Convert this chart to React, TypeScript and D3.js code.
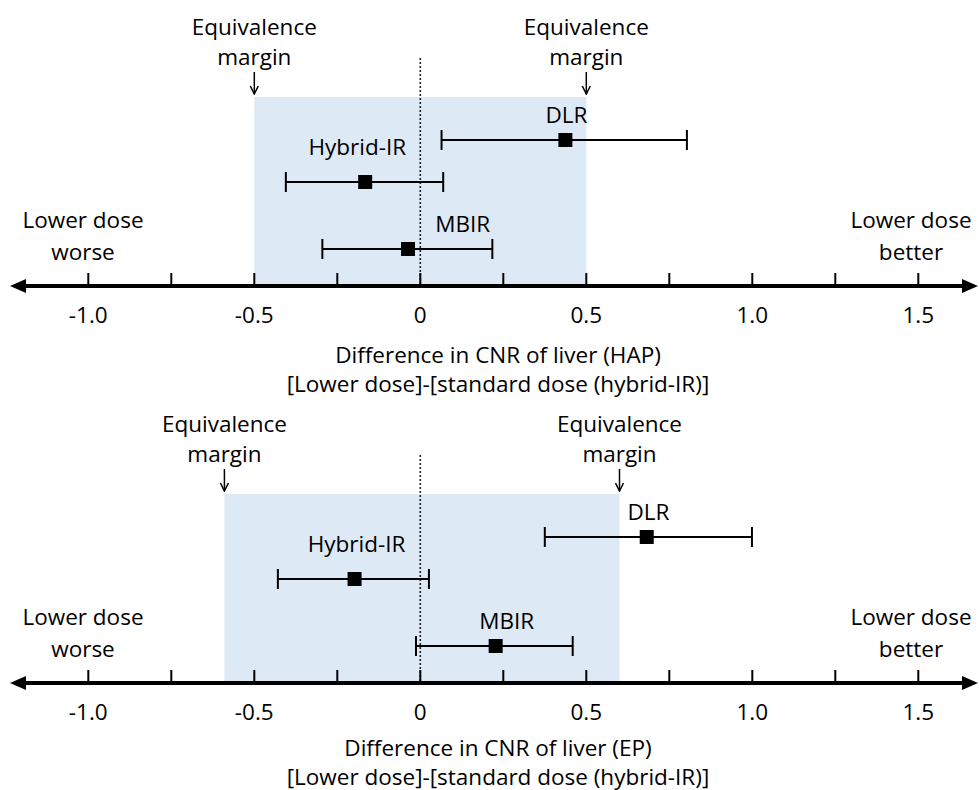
import React, { useEffect, useRef } from 'react';
import * as d3 from 'd3';

// values
const methods = ['DLR', 'Hybrid-IR', 'MBIR'];

const hapEstimate = [0.437, -0.166, -0.037];
const hapLower = [0.064, -0.405, -0.295];
const hapUpper = [0.803, 0.069, 0.217];
const hapMargin = [-0.5, 0.5];
const hapLabelAt = [0.44, -0.19, 0.128];

const epEstimate = [0.682, -0.198, 0.227];
const epLower = [0.375, -0.429, -0.013];
const epUpper = [0.999, 0.026, 0.459];
const epMargin = [-0.59, 0.6];
const epLabelAt = [0.687, -0.192, 0.26];

const tickValues = [-1, -0.75, -0.5, -0.25, 0, 0.25, 0.5, 0.75, 1, 1.25, 1.5];
const labeledTicks = [-1, -0.5, 0, 0.5, 1, 1.5];

const titles = [
  ['Difference in CNR of liver (HAP)', '[Lower dose]-[standard dose (hybrid-IR)]'],
  ['Difference in CNR of liver (EP)', '[Lower dose]-[standard dose (hybrid-IR)]'],
];

const W = 979, H = 790;
const FONT = '"Open Sans", "Noto Sans", sans-serif';
const FS = '22.5px';
const rowOffset = [-146, -104, -37];
const labelOffset = [-172, -140, -63];

function App() {
  const ref = useRef<SVGSVGElement>(null);

  useEffect(() => {
    const svg = d3.select(ref.current);
    svg.selectAll('*').remove();

    const x = d3.scaleLinear().domain([-1, 1.5]).range([88.3, 918.3]);

    const defs = svg.append('defs');
    defs.append('marker')
      .attr('id', 'arr')
      .attr('viewBox', '0 0 10 10')
      .attr('refX', 9).attr('refY', 5)
      .attr('markerWidth', 10).attr('markerHeight', 10)
      .attr('markerUnits', 'userSpaceOnUse')
      .attr('orient', 'auto')
      .append('path')
      .attr('d', 'M1,1 L9,5 L1,9')
      .attr('fill', 'none')
      .attr('stroke', '#000')
      .attr('stroke-width', 1.5);

    const label = (g: any, tx: number, ty: number, s: string) =>
      g.append('text')
        .attr('x', tx).attr('y', ty)
        .attr('text-anchor', 'middle').attr('dominant-baseline', 'central')
        .style('font-family', FONT).style('font-size', FS)
        .text(s);

    const panels = [
      { axisY: 286, titleY: 68, est: hapEstimate, lo: hapLower, hi: hapUpper, margin: hapMargin, labelAt: hapLabelAt, title: titles[0] },
      { axisY: 683, titleY: 64, est: epEstimate, lo: epLower, hi: epUpper, margin: epMargin, labelAt: epLabelAt, title: titles[1] },
    ];

    panels.forEach(p => {
      const g = svg.append('g').attr('transform', `translate(0,${p.axisY})`);

      // equivalence region
      g.append('rect')
        .attr('x', x(p.margin[0]))
        .attr('y', -189)
        .attr('width', x(p.margin[1]) - x(p.margin[0]))
        .attr('height', 189)
        .attr('fill', '#dee9f6');

      // zero line
      g.append('line')
        .attr('x1', x(0)).attr('x2', x(0))
        .attr('y1', -228).attr('y2', 0)
        .attr('stroke', '#222')
        .attr('stroke-width', 1.6)
        .attr('stroke-dasharray', '2,2');

      // margin labels + arrows
      p.margin.forEach(m => {
        label(g, x(m), -260, 'Equivalence');
        label(g, x(m), -230, 'margin');
        g.append('line')
          .attr('x1', x(m)).attr('x2', x(m))
          .attr('y1', -214).attr('y2', -192)
          .attr('stroke', '#000').attr('stroke-width', 1.5)
          .attr('marker-end', 'url(#arr)');
      });

      // side notes
      label(g, 83, -67, 'Lower dose');
      label(g, 83, -35, 'worse');
      label(g, 911, -67, 'Lower dose');
      label(g, 911, -35, 'better');

      // error bars
      methods.forEach((name, i) => {
        const y = rowOffset[i];
        g.append('line')
          .attr('x1', x(p.lo[i])).attr('x2', x(p.hi[i]))
          .attr('y1', y).attr('y2', y)
          .attr('stroke', '#000').attr('stroke-width', 2);
        [p.lo[i], p.hi[i]].forEach(v => {
          g.append('line')
            .attr('x1', x(v)).attr('x2', x(v))
            .attr('y1', y - 10).attr('y2', y + 10)
            .attr('stroke', '#000').attr('stroke-width', 2);
        });
        g.append('rect')
          .attr('x', x(p.est[i]) - 7).attr('y', y - 7)
          .attr('width', 14).attr('height', 14)
          .attr('fill', '#000');
        label(g, x(p.labelAt[i]), labelOffset[i], name);
      });

      // axis
      g.append('line')
        .attr('x1', 22).attr('x2', W - 14)
        .attr('y1', 0).attr('y2', 0)
        .attr('stroke', '#000').attr('stroke-width', 4);
      g.append('path')
        .attr('d', `M10,0 L26,-7 L26,7 Z`)
        .attr('fill', '#000');
      g.append('path')
        .attr('d', `M${W - 1},0 L${W - 17},-7 L${W - 17},7 Z`)
        .attr('fill', '#000');

      g.selectAll('.tick')
        .data(tickValues)
        .join('line')
        .attr('x1', d => x(d)).attr('x2', d => x(d))
        .attr('y1', -13).attr('y2', 0)
        .attr('stroke', '#000').attr('stroke-width', 2);

      g.selectAll('.tl')
        .data(labeledTicks)
        .join('text')
        .attr('x', d => x(d)).attr('y', 28)
        .attr('text-anchor', 'middle').attr('dominant-baseline', 'central')
        .style('font-family', FONT).style('font-size', FS)
        .text(d => (d === 0 ? '0' : d.toFixed(1)));

      p.title.forEach((t, k) => {
        label(g, 498, p.titleY + k * 29, t);
      });
    });
  }, []);

  return (
    <svg
      ref={ref}
      width={W}
      height={H}
      style={{ position: 'absolute', left: 0, top: 0, background: '#fff' }}
    />
  );
}

export default App;
